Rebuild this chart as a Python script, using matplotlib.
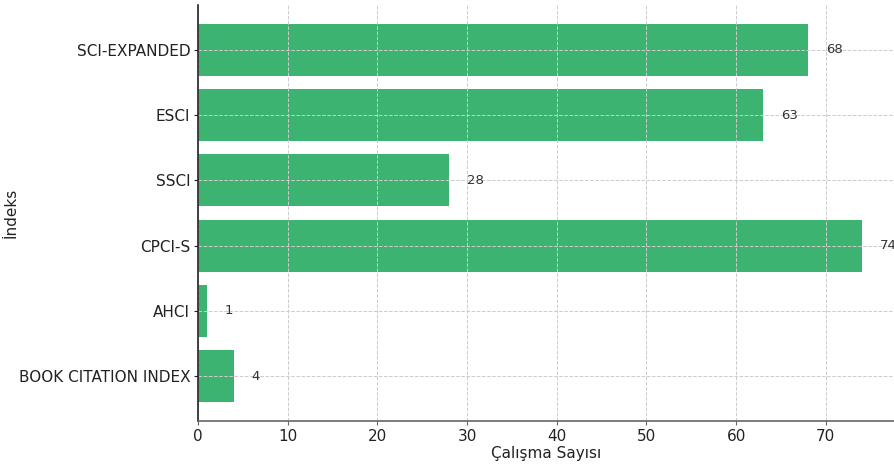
import matplotlib
matplotlib.use("Agg")
import matplotlib.pyplot as plt

categories = ["BOOK CITATION INDEX", "AHCI", "CPCI-S", "SSCI", "ESCI", "SCI-EXPANDED"]
values = [4, 1, 74, 28, 63, 68]

fig = plt.figure(figsize=(8.94, 4.65), dpi=100)
ax = fig.add_axes([198/894, 44/465, 1 - 198/894 + 0.001, (421-5)/465])
bars = ax.barh(categories, values, color="#3CB371", height=0.8, zorder=1)
for i, v in enumerate(values):
    ax.text(v + 2, i, str(v), va="center", ha="left", fontsize=9.5, color="#333333")
ax.set_xlim(0, max(values) * 1.05)
ax.grid(True, linestyle="--", color="#cccccc", linewidth=0.7, zorder=2)
ax.set_axisbelow(False)
ax.spines["top"].set_visible(False)
ax.spines["right"].set_visible(False)
ax.spines["left"].set_color("#222222")
ax.spines["left"].set_zorder(5)
ax.spines["bottom"].set_color("#666666")
ax.spines["bottom"].set_zorder(5)
ax.spines["left"].set_linewidth(1.2)
ax.spines["bottom"].set_linewidth(1.2)
ax.tick_params(axis="both", labelsize=11, colors="#222222", length=3, pad=2.5)
ax.tick_params(axis="x", colors="#666666", labelcolor="#222222")
ax.set_xlabel("Çalışma Sayısı", fontsize=11, color="#222222", labelpad=2)
ax.set_ylabel("İndeks", fontsize=11, color="#222222")
ax.yaxis.set_label_coords(-179/696, 0.5)
fig.savefig("out.png", dpi=100)
